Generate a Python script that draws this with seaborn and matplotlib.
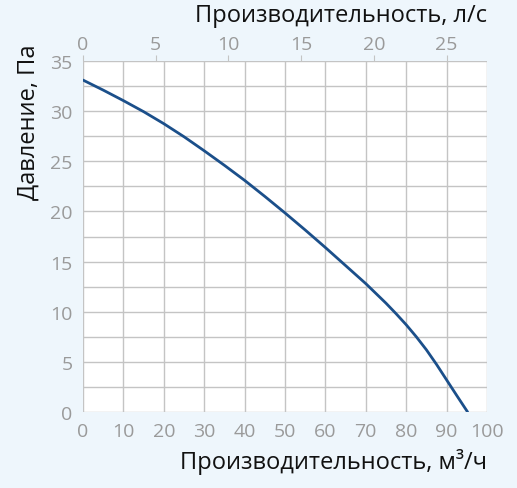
import numpy as np
import pandas as pd
import matplotlib
matplotlib.use("Agg")
import matplotlib.pyplot as plt
import seaborn as sns

# curve: flow (m3/h) vs pressure (Pa)
flow = [0, 5, 10, 15, 20, 25, 30, 35, 40, 45, 50, 55, 60, 65, 70, 75, 77.5, 80, 82.5, 85, 87.5, 90, 92.5, 95.2]
pressure = [33.1, 32.1, 31.05, 29.95, 28.75, 27.45, 26.05, 24.6, 23.1, 21.5, 19.85, 18.15, 16.4, 14.6, 12.8, 10.85, 9.8, 8.7, 7.5, 6.2, 4.75, 3.2, 1.65, 0.0]

df = pd.DataFrame({"flow": flow, "pressure": pressure})

bg = "#eef6fc"
grid_c = "#c4c4c4"
tick_c = "#9a9a9a"

sns.set_style("white")
plt.rcParams["font.family"] = ["Open Sans", "DejaVu Sans"]

fig = plt.figure(figsize=(5.17, 4.89), dpi=100, facecolor=bg)
ax = fig.add_axes([0.1605, 0.1554, 0.7815, 0.7178])
ax.set_facecolor("white")

sns.lineplot(data=df, x="flow", y="pressure", ax=ax, color="#1b4f8a", linewidth=2)

ax.set_xlim(0, 100)
ax.set_ylim(0, 35)
ax.set_xticks(np.arange(0, 101, 10))
ax.set_yticks(np.arange(0, 36, 5))
ax.set_yticks(np.arange(0, 36, 2.5), minor=True)
ax.grid(True, which="both", color=grid_c, linewidth=1)
ax.tick_params(axis="both", which="both", colors=grid_c, labelcolor=tick_c, labelsize=14, length=4)
ax.tick_params(axis="y", which="minor", length=0)
for s in ax.spines.values():
    s.set_visible(False)
ax.set_xlabel("")
ax.set_ylabel("")

# top axis in l/s
top = ax.secondary_xaxis("top", functions=(lambda q: q / 3.6, lambda q: q * 3.6))
top.set_xticks(np.arange(0, 26, 5))
top.tick_params(colors=grid_c, labelcolor=tick_c, labelsize=14, length=4, pad=2)
top.spines["top"].set_visible(False)

fig.text(0.942, 0.968, "Производительность, л/с", ha="right", va="center", fontsize=17, color="#111111")
fig.text(0.942, 0.056, "Производительность, м³/ч", ha="right", va="center", fontsize=17, color="#111111")
fig.text(0.055, 0.91, "Давление, Па", ha="center", va="top", rotation=90, fontsize=17, color="#111111")

fig.savefig("out.png", dpi=100, facecolor=bg)
